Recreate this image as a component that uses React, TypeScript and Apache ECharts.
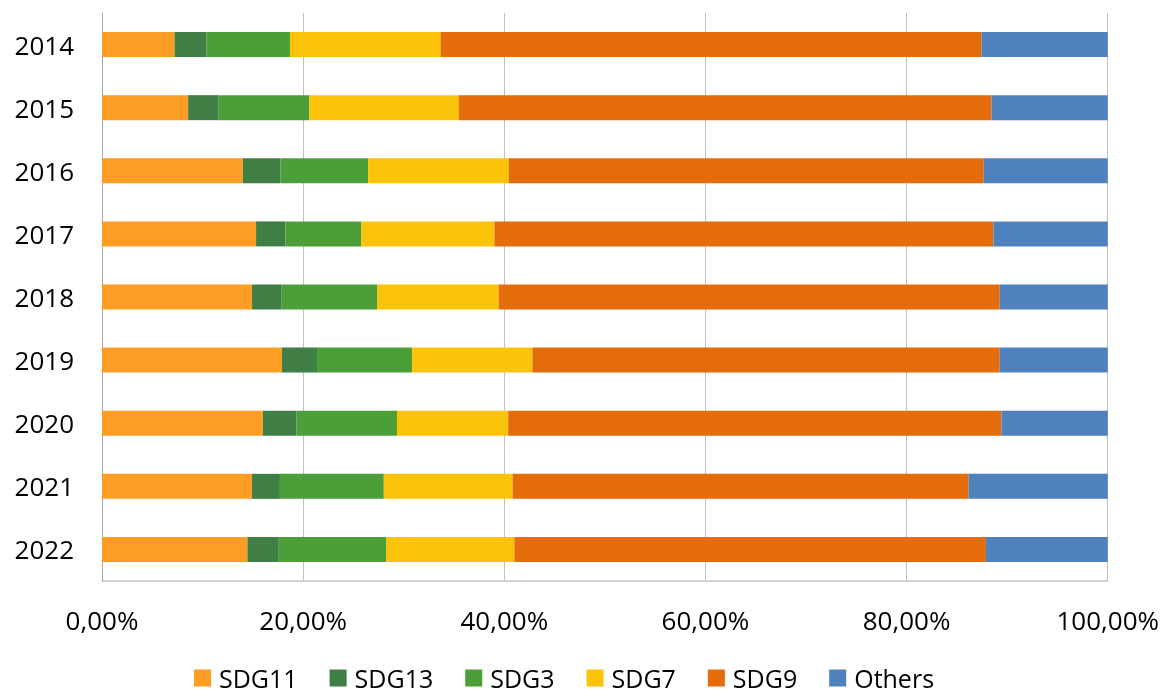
import React, { useEffect, useRef } from "react";
import * as echarts from "echarts";

const years = ["2014", "2015", "2016", "2017", "2018", "2019", "2020", "2021", "2022"];
const seriesNames = ["SDG11", "SDG13", "SDG3", "SDG7", "SDG9", "Others"];
const sdg11 = [7.22, 8.57, 14.01, 15.32, 14.92, 17.9, 15.99, 14.92, 14.46];
const sdg13 = [3.16, 2.98, 3.72, 2.91, 2.95, 3.48, 3.33, 2.77, 3.12];
const sdg3 = [8.31, 9.06, 8.73, 7.53, 9.48, 9.44, 10.01, 10.33, 10.66];
const sdg7 = [14.97, 14.86, 13.98, 13.26, 12.09, 11.98, 11.06, 12.81, 12.77];
const sdg9 = [53.79, 52.97, 47.23, 49.61, 49.82, 46.46, 49.05, 45.33, 46.88];
const others = [12.55, 11.56, 12.33, 11.37, 10.74, 10.74, 10.56, 13.84, 12.11];
const colors = ["#FD9D24", "#3F7E44", "#4C9F38", "#FCC30B", "#E46C0A", "#4F81BD"];
const xTicks = [0, 20, 40, 60, 80, 100];

export default function App() {
  const ref = useRef<HTMLDivElement>(null);
  useEffect(() => {
    if (!ref.current) return;
    const chart = echarts.init(ref.current, undefined, { renderer: "svg" });
    const values = [sdg11, sdg13, sdg3, sdg7, sdg9, others];
    const font = "'Open Sans', 'Noto Sans', sans-serif";
    chart.setOption({
      animation: false,
      textStyle: { fontFamily: font },
      color: colors,
      grid: { left: 102, right: 54, top: 13, bottom: 118, containLabel: false },
      legend: {
        data: seriesNames,
        top: 660,
        left: 189,
        itemWidth: 17,
        itemHeight: 17,
        itemGap: 32,
        icon: "rect",
        textStyle: {
          fontSize: 25,
          lineHeight: 26,
          color: "#000",
          fontFamily: font,
          padding: [0, 0, 0, 3],
        },
      },
      xAxis: {
        type: "value",
        min: xTicks[0],
        max: xTicks[xTicks.length - 1],
        interval: 20,
        axisLine: { show: false },
        axisTick: { show: false },
        splitLine: { show: true, lineStyle: { color: "#c0c0c0", width: 1 } },
        axisLabel: {
          fontSize: 26,
          color: "#000",
          margin: 26,
          fontFamily: font,
          formatter: (v: number) => v.toFixed(2).replace(".", ",") + "%",
        },
      },
      yAxis: {
        type: "category",
        data: years,
        inverse: true,
        axisTick: { show: false },
        axisLine: { show: true, lineStyle: { color: "#a6a6a6", width: 1 } },
        axisLabel: { fontSize: 26, color: "#000", margin: 28, fontFamily: font },
      },
      graphic: [
        {
          type: "line",
          shape: { x1: 102, y1: 581, x2: 1108, y2: 581 },
          style: { stroke: "#a6a6a6", lineWidth: 1 },
        },
      ],
      series: seriesNames.map((name, i) => ({
        name,
        type: "bar",
        stack: "total",
        data: values[i],
        barWidth: 25,
        itemStyle: { color: colors[i] },
      })),
    });
    return () => chart.dispose();
  }, []);
  return (
    <div
      ref={ref}
      style={{ position: "fixed", left: 0, top: 0, width: 1162, height: 699 }}
    />
  );
}
